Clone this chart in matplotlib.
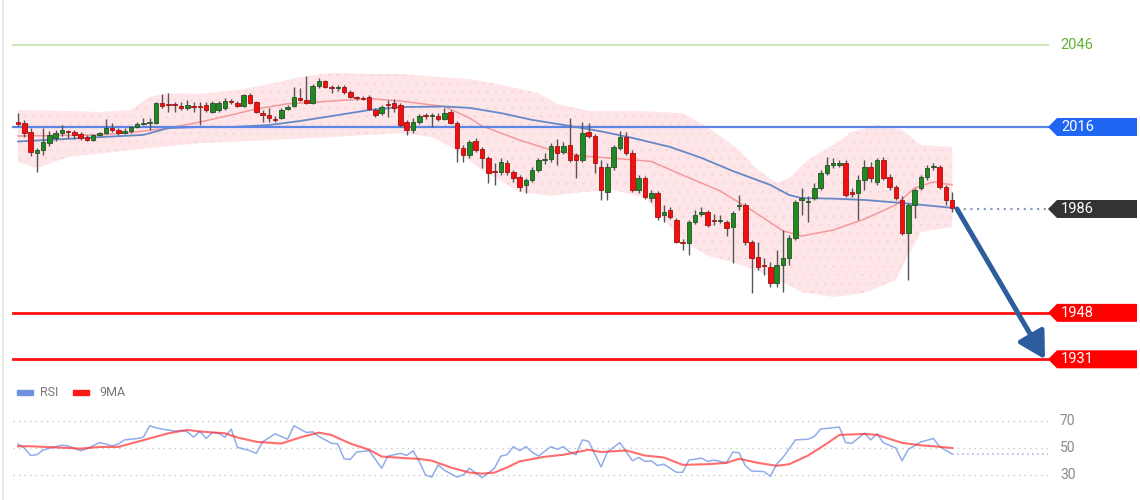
import numpy as np
import matplotlib.pyplot as plt
from matplotlib.patches import Polygon, Rectangle
from matplotlib.lines import Line2D

# candles
opens = [2017.8, 2017.5, 2014.2, 2006.5, 2007.6, 2010.1, 2012.0, 2013.8, 2014.5, 2014.2,
         2013.4, 2012.3, 2011.2, 2013.1, 2013.8, 2015.6, 2014.9, 2013.8, 2014.5, 2016.0,
         2017.1, 2017.5, 2017.5, 2024.8, 2024.1, 2024.4, 2023.7, 2023.0, 2023.7, 2023.7,
         2024.1, 2021.5, 2022.2, 2023.0, 2025.1, 2024.8, 2023.7, 2027.7, 2025.1, 2021.1,
         2020.4, 2018.9, 2019.3, 2022.6, 2023.7, 2026.6, 2025.9, 2024.8, 2031.0, 2032.8,
         2030.6, 2030.4, 2030.6, 2028.8, 2026.8, 2026.6, 2027.0, 2022.2, 2021.1, 2024.4,
         2024.8, 2024.1, 2017.8, 2014.9, 2017.8, 2020.0, 2019.9, 2020.0, 2018.9, 2021.5,
         2017.5, 2008.3, 2005.8, 2010.9, 2007.9, 2004.7, 1999.5, 1999.5, 2002.9, 1999.5,
         1997.7, 1994.8, 1996.6, 2000.3, 2004.0, 2004.3, 2009.0, 2006.9, 2009.4, 2005.8,
         2004.0, 2014.2, 2012.7, 2001.4, 1992.2, 2001.4, 2008.3, 2012.3, 2006.5, 1993.0,
         1997.3, 1990.0, 1991.9, 1983.8, 1985.6, 1982.0, 1973.9, 1973.6, 1981.2, 1984.2,
         1984.9, 1982.0, 1981.6, 1981.2, 1979.4, 1987.1, 1987.5, 1973.9, 1968.4, 1965.5,
         1964.8, 1958.9, 1965.5, 1968.1, 1975.4, 1989.3, 1988.6, 1990.0, 1993.7, 1999.2,
         2002.1, 2002.1, 2002.9, 1992.2, 1991.9, 1996.6, 2001.4, 1995.9, 2004.0, 1997.7,
         1994.0, 1989.3, 1977.3, 1987.5, 1993.7, 1997.7, 2001.4, 2001.4, 1994.0, 1989.3]
highs = [2021.1, 2018.6, 2015.6, 2008.3, 2015.6, 2014.5, 2014.9, 2016.7, 2014.9, 2014.9,
         2014.2, 2013.1, 2013.4, 2014.2, 2018.9, 2017.5, 2015.6, 2015.6, 2016.4, 2017.8,
         2019.3, 2019.3, 2025.1, 2028.1, 2028.4, 2025.1, 2025.1, 2025.9, 2025.1, 2025.1,
         2025.1, 2025.5, 2025.5, 2026.6, 2026.2, 2025.5, 2028.1, 2028.4, 2025.5, 2022.2,
         2023.0, 2020.0, 2023.0, 2024.1, 2030.6, 2030.3, 2034.7, 2031.7, 2033.9, 2033.2,
         2031.4, 2031.4, 2031.4, 2029.5, 2027.3, 2027.3, 2027.7, 2023.0, 2024.1, 2025.9,
         2026.2, 2024.8, 2018.6, 2019.3, 2020.8, 2021.1, 2021.1, 2021.1, 2023.0, 2022.2,
         2018.2, 2009.4, 2011.2, 2012.0, 2008.7, 2005.4, 2002.9, 2004.7, 2004.0, 2000.3,
         1998.4, 1997.3, 2001.4, 2004.7, 2006.5, 2010.1, 2011.6, 2010.5, 2019.3, 2006.5,
         2017.8, 2017.5, 2013.4, 2004.0, 2002.9, 2009.4, 2014.5, 2014.2, 2007.6, 1998.4,
         1998.1, 1993.0, 1992.6, 1987.5, 1986.7, 1982.7, 1975.0, 1982.0, 1985.6, 1986.7,
         1985.6, 1984.2, 1983.8, 1982.0, 1985.3, 1991.1, 1988.2, 1974.7, 1973.9, 1968.1,
         1966.6, 1971.0, 1978.3, 1976.5, 1989.3, 1993.7, 1990.8, 1995.5, 2000.3, 2005.0,
         2004.7, 2004.0, 2004.0, 1993.7, 1998.4, 2003.9, 2003.2, 2004.7, 2005.0, 1998.8,
         1994.8, 1990.8, 1988.2, 1993.7, 1998.4, 2002.1, 2002.9, 2002.1, 1994.8, 1992.2]
lows = [2016.4, 2012.3, 2005.4, 1999.5, 2005.8, 2009.0, 2010.9, 2012.7, 2012.0, 2011.6,
        2011.2, 2010.9, 2010.9, 2012.7, 2013.4, 2014.2, 2013.1, 2013.4, 2013.8, 2015.6,
        2016.7, 2014.9, 2017.1, 2023.0, 2021.5, 2021.5, 2022.2, 2022.2, 2021.5, 2016.7,
        2021.5, 2021.1, 2021.5, 2022.2, 2024.4, 2023.3, 2023.3, 2024.4, 2021.1, 2017.8,
        2017.8, 2017.8, 2018.9, 2022.2, 2023.3, 2025.5, 2024.4, 2024.4, 2030.3, 2030.3,
        2028.4, 2029.2, 2028.1, 2026.6, 2025.9, 2025.9, 2022.2, 2019.7, 2020.4, 2019.7,
        2021.5, 2016.0, 2013.1, 2013.8, 2017.1, 2018.9, 2016.0, 2018.2, 2018.6, 2017.1,
        2003.2, 2003.2, 2004.7, 2006.9, 2001.0, 1995.5, 1994.8, 1998.4, 1998.4, 1995.9,
        1992.6, 1991.9, 1995.9, 1999.5, 2002.5, 2003.2, 2002.1, 2006.1, 2003.2, 1997.3,
        2003.2, 2012.0, 1999.2, 1989.3, 1989.3, 2000.3, 2007.6, 2005.8, 1992.2, 1991.9,
        1989.7, 1988.6, 1982.0, 1981.2, 1982.3, 1973.6, 1971.0, 1969.2, 1980.5, 1983.4,
        1979.4, 1980.1, 1980.9, 1976.1, 1966.2, 1985.6, 1972.8, 1955.3, 1963.7, 1961.9,
        1957.4, 1957.4, 1955.6, 1965.5, 1974.7, 1983.8, 1981.2, 1989.3, 1993.0, 1998.4,
        2001.0, 2001.4, 1990.4, 1990.4, 1982.0, 1993.0, 1995.9, 1994.8, 1996.6, 1993.0,
        1989.3, 1976.5, 1960.0, 1982.7, 1993.0, 1996.6, 2000.3, 1993.3, 1987.5, 1984.9]
closes = [2017.1, 2013.8, 2006.9, 2007.6, 2010.5, 2013.1, 2013.8, 2014.9, 2014.2, 2013.1,
          2012.0, 2011.2, 2013.1, 2013.8, 2015.6, 2014.9, 2013.8, 2014.5, 2016.0, 2017.1,
          2017.5, 2017.8, 2024.8, 2023.7, 2023.9, 2024.2, 2023.0, 2024.1, 2023.5, 2023.5,
          2022.2, 2024.8, 2024.8, 2025.5, 2025.0, 2023.7, 2027.7, 2024.8, 2021.5, 2020.4,
          2019.3, 2018.7, 2022.2, 2023.3, 2027.0, 2025.9, 2024.8, 2031.0, 2032.8, 2030.6,
          2030.4, 2030.6, 2028.8, 2027.0, 2026.6, 2026.4, 2022.6, 2020.4, 2023.3, 2024.2,
          2023.0, 2016.7, 2014.9, 2017.8, 2020.0, 2019.9, 2020.0, 2018.9, 2021.1, 2017.5,
          2008.3, 2005.8, 2010.5, 2007.6, 2004.7, 1999.2, 1999.4, 2003.2, 1999.5, 1997.3,
          1994.0, 1996.6, 2000.3, 2004.0, 2004.3, 2009.0, 2006.5, 2009.0, 2004.0, 2004.0,
          2013.8, 2012.7, 2002.9, 1993.0, 2001.4, 2008.7, 2012.3, 2006.5, 1993.0, 1997.3,
          1990.4, 1991.9, 1983.1, 1984.9, 1983.1, 1973.9, 1973.6, 1981.2, 1983.8, 1984.9,
          1980.1, 1981.6, 1982.0, 1979.0, 1984.5, 1987.5, 1973.9, 1968.1, 1964.8, 1965.1,
          1958.9, 1965.5, 1968.1, 1975.4, 1988.6, 1990.0, 1988.9, 1993.7, 1999.2, 2002.1,
          2002.9, 2002.9, 1991.1, 1991.5, 1996.6, 2001.4, 1997.3, 2004.0, 1997.3, 1994.0,
          1990.0, 1977.3, 1987.5, 1993.0, 1997.7, 2001.0, 2001.8, 1994.0, 1989.3, 1986.4]

# moving averages and bollinger band (vertices by candle index)
ma_fast_idx = [0, 13, 18, 24, 29, 34, 38, 43, 50, 56, 61, 68, 72, 74, 80, 85, 90, 98, 101,
               106, 112, 117, 122, 125, 130, 135, 140, 143, 146, 149]
ma_fast = [2012.7, 2013.1, 2014.0, 2015.6, 2017.8, 2020.4, 2022.6, 2024.5, 2025.5, 2026.4,
           2025.5, 2023.5, 2019.3, 2016.4, 2011.2, 2007.6, 2005.4, 2004.0, 2003.4,
           1998.4, 1992.6, 1985.6, 1978.0, 1976.1, 1978.3, 1982.3, 1987.5, 1993.7, 1995.9, 1994.8]
ma_slow_idx = [0, 13, 20, 24, 29, 34, 40, 45, 50, 56, 61, 68, 72, 77, 82, 88, 93, 98, 104,
               109, 114, 120, 123, 125, 130, 135, 141, 146, 149]
ma_slow = [2010.7, 2012.3, 2013.1, 2015.6, 2016.0, 2016.0, 2016.7, 2018.2, 2020.0, 2022.2,
           2023.3, 2023.5, 2023.0, 2021.1, 2018.6, 2016.4, 2014.4, 2012.0, 2008.7,
           2004.7, 1999.9, 1994.8, 1991.1, 1990.0, 1989.8, 1989.3, 1988.2, 1987.1, 1986.4]
bb_up_idx = [0, 7, 13, 18, 21, 24, 29, 35, 40, 45, 50, 56, 61, 67, 72, 78, 83, 86, 91, 99,
             106, 110, 115, 118, 121, 123, 126, 130, 133, 137, 141, 144, 149]
bb_up = [2022.2, 2021.9, 2021.5, 2022.2, 2027.0, 2028.4, 2028.1, 2029.5, 2031.7, 2034.3,
         2035.8, 2035.4, 2035.4, 2034.3, 2033.6, 2031.0, 2028.4, 2024.4, 2021.9, 2021.9,
         2021.1, 2016.0, 2007.6, 2000.3, 1995.5, 1997.3, 2004.0, 2009.4, 2014.2, 2016.7,
         2014.9, 2009.4, 2008.7]
bb_low_idx = [0, 3, 8, 18, 29, 40, 50, 61, 66, 69, 74, 80, 85, 90, 95, 100, 106, 110, 114,
              120, 125, 130, 135, 140, 142, 144, 149]
bb_low = [2003.2, 2001.0, 2005.0, 2007.6, 2010.1, 2011.2, 2012.3, 2013.8, 2012.3, 2008.7,
          2000.3, 1992.2, 1990.8, 1992.2, 1993.0, 1990.0, 1974.7, 1968.8, 1966.6, 1961.5,
          1955.6, 1953.8, 1955.3, 1960.0, 1969.2, 1977.6, 1979.4]

# key levels
target_level = 2046
resistance = 2016
current = 1986
supports = [1948, 1931]

# RSI panel
rsi_idx = [0, 1, 2, 3, 4, 6, 7, 8, 10, 11, 13, 14, 15, 16, 17, 19, 20, 21, 22, 23, 25, 26,
           27, 28, 29, 30, 31, 32, 33, 34, 35, 37, 38, 39, 41, 43, 44, 46, 47, 48, 50, 51,
           52, 53, 54, 56, 58, 59, 61, 62, 63, 64, 65, 66, 67, 68, 70, 71, 72, 73, 74, 76,
           77, 78, 79, 80, 81, 82, 83, 85, 86, 87, 88, 89, 90, 91, 93, 94, 96, 98, 99, 100,
           101, 102, 103, 104, 105, 106, 107, 109, 110, 111, 113, 114, 115, 116, 117, 119,
           120, 121, 122, 124, 126, 127, 128, 131, 132, 133, 135, 136, 137, 138, 140, 141,
           142, 144, 146, 147, 149]
rsi_vals = [53, 50, 44.5, 45, 48.5, 51, 52, 51.5, 48, 49.5, 54, 53, 51.5, 53, 56, 57, 58,
            66.5, 65, 64, 62.5, 63, 62, 58, 62.5, 57, 61.5, 61, 58, 64, 50.5, 48, 46, 54.5,
            60.5, 56.5, 66.5, 61.5, 62, 58.5, 53.5, 53, 42, 41.5, 47, 48, 35, 44, 46, 44.5,
            48, 40, 30, 28.5, 37.5, 33.5, 28.5, 30, 35, 31.5, 28, 35, 44, 45, 51, 48, 51,
            47, 44, 51, 49, 51, 47, 45, 56, 55, 36, 47, 54, 40.5, 43, 40, 40.5, 37, 38, 35,
            32, 32, 41, 42.5, 40, 41, 39, 47, 46.5, 37, 33, 32.5, 29, 38, 43, 56, 56.5,
            58.5, 64, 65.5, 54, 53.5, 61, 56, 60.5, 54, 50, 40.5, 49, 54.5, 57, 51, 45.5]
rsi_ma_idx = [0, 2, 8, 10, 13, 16, 18, 21, 24, 27, 29, 33, 35, 38, 42, 45, 48, 50, 53, 56,
              58, 61, 64, 66, 69, 72, 74, 76, 78, 80, 84, 87, 91, 93, 97, 100, 103, 106,
              110, 113, 115, 118, 121, 123, 126, 129, 131, 135, 137, 141, 144, 146, 149]
rsi_ma = [51.3, 51.3, 50, 49.5, 50.8, 50.8, 53.3, 57.1, 60.9, 63.4, 62.2, 60.9, 57.8,
          54.6, 53.3, 57.8, 61.4, 59.6, 53.3, 48.7, 43.7, 42.7, 41.9, 40.6, 35.6, 31.8,
          31, 31.8, 35.6, 40.1, 43.5, 45, 48.7, 47, 48.2, 44.4, 43, 37.5, 38, 39, 42, 39,
          36.8, 38, 44.4, 53.3, 59.7, 60.4, 59.7, 53.8, 52, 51.3, 50]
rsi_levels = [70, 50, 30]

# pixel layout of the 1140x500 picture
X_FIRST, X_STEP = 18, 6.27
PX_PER_PT = 2.733


def xd(px):
    return (px - X_FIRST) / X_STEP


def main():
    plt.rcParams['font.family'] = ['Roboto', 'DejaVu Sans']
    plt.rcParams['hatch.linewidth'] = 0.3
    fig = plt.figure(figsize=(11.4, 5), dpi=100)
    fig.patch.set_facecolor('white')

    # price panel covers the top 380 px
    ax = fig.add_axes([0, 0.24, 1, 0.76])
    ax.set_xlim(xd(0), xd(1140))
    ax.set_ylim(2016 - (380 - 127) / PX_PER_PT, 2016 + 127 / PX_PER_PT)
    ax.axis('off')

    # bollinger band
    band_x = np.r_[bb_up_idx, bb_low_idx[::-1]]
    band_y = np.r_[bb_up, bb_low[::-1]]
    ax.fill(band_x, band_y, facecolor='#fde5e8', edgecolor='none', zorder=1)
    ax.fill(band_x, band_y, facecolor='none', edgecolor='#f8d2d7', hatch='..',
            linewidth=0, zorder=1)

    ax.plot(ma_fast_idx, ma_fast, color='#f39a9a', lw=1.1, zorder=2)
    ax.plot(ma_slow_idx, ma_slow, color='#6688c6', lw=1.3, zorder=2)

    # horizontal levels
    x0, x1 = xd(13), xd(1048)
    ax.plot([x0, x1], [target_level] * 2, color='#cde8bb', lw=1.6, zorder=2)
    ax.text(xd(1060), target_level, str(target_level), color='#5fb534', fontsize=10.5,
            va='center', ha='left')
    ax.plot([x0, x1], [resistance] * 2, color='#5b86e6', lw=1.6, zorder=2)
    for s in supports:
        ax.plot([x0, x1], [s] * 2, color='#ff1010', lw=2.0, zorder=2)
    ax.plot([xd(957), x1], [current] * 2, color='#8c9cc0', lw=1.6, ls=(0, (1, 2)), zorder=2)

    # candles
    o, h, l, c = map(np.array, (opens, highs, lows, closes))
    idx = np.arange(len(c))
    up = c >= o
    ax.vlines(idx, l, h, color='#555555', lw=1.0, zorder=4)
    body = np.maximum(np.abs(c - o), 0.35)
    ax.bar(idx, body, bottom=np.minimum(o, c), width=0.72,
           color=np.where(up, '#1f8a1f', '#f40f0f'),
           edgecolor=np.where(up, '#24502a', '#a01414'), linewidth=0.6, zorder=5)

    # price tags on the right
    half = 9 / PX_PER_PT
    tip, left, right = xd(1048), xd(1057), xd(1137)
    tags = [(resistance, '#1f66f2'), (current, '#333333')] + [(s, '#ff0000') for s in supports]
    for level, col in tags:
        ax.add_patch(Polygon([(tip, level), (left, level + half), (right, level + half),
                              (right, level - half), (left, level - half)],
                             closed=True, facecolor=col, edgecolor='none', zorder=6))
        ax.text(xd(1061), level, str(level), color='white', fontsize=10.5,
                va='center', ha='left', zorder=7)

    # projected move
    ax.annotate('', xy=(xd(1045), supports[-1]), xytext=(xd(957), current),
                arrowprops=dict(arrowstyle='-|>,head_length=0.8,head_width=0.45',
                                lw=3.6, color='#2e5d9e', mutation_scale=20,
                                shrinkA=0, shrinkB=0), zorder=8)

    # RSI panel covers the bottom 120 px
    rax = fig.add_axes([0, 0, 1, 0.24])
    rax.set_xlim(xd(0), xd(1140))
    rax.set_ylim(50 - 52 / 1.35, 50 + 68 / 1.35)
    rax.axis('off')
    for lv in rsi_levels:
        rax.plot([x0, x1], [lv] * 2, color='#c8c8c8', lw=1.0, ls=(0, (1, 3)))
        rax.text(xd(1060), lv, str(lv), color='#8a8a8a', fontsize=10, va='center', ha='left')
    rax.plot(rsi_idx, rsi_vals, color='#86a3e8', lw=1.1, alpha=0.9)
    rax.plot(rsi_ma_idx, rsi_ma, color='#ff3030', lw=1.5, alpha=0.7)
    rax.plot([rsi_idx[-1], x1], [rsi_vals[-1]] * 2, color='#a9bbea', lw=1.2, ls=(0, (1, 2)))

    # legend
    fig.add_artist(Rectangle((17 / 1140, 1 - 395 / 500), 16 / 1140, 5 / 500,
                             transform=fig.transFigure, color='#6f91e3'))
    fig.text(40 / 1140, 1 - 392 / 500, 'RSI', color='#777777', fontsize=9, va='center')
    fig.add_artist(Rectangle((73 / 1140, 1 - 395 / 500), 16 / 1140, 5 / 500,
                             transform=fig.transFigure, color='#ff1a1a'))
    fig.text(99 / 1140, 1 - 392 / 500, '9MA', color='#777777', fontsize=9, va='center')

    # faint frame on the left
    fig.add_artist(Line2D([2.5 / 1140] * 2, [0, 1], transform=fig.transFigure,
                          color='#e3ebe3', lw=1.5))

    fig.savefig('out.png', dpi=100, facecolor='white')


if __name__ == "__main__":
    main()
